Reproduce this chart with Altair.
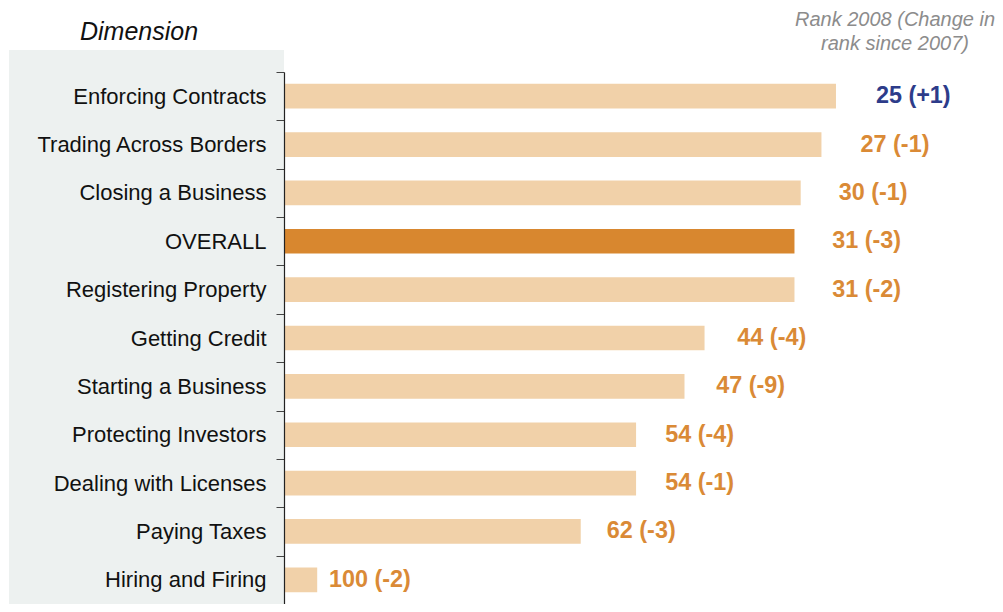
import altair as alt
import pandas as pd

dimensions = ["Enforcing Contracts", "Trading Across Borders", "Closing a Business",
              "OVERALL", "Registering Property", "Getting Credit", "Starting a Business",
              "Protecting Investors", "Dealing with Licenses", "Paying Taxes",
              "Hiring and Firing"]
rank_2008 = [25, 27, 30, 31, 31, 44, 47, 54, 54, 62, 100]
rank_change = [1, -1, -1, -3, -2, -4, -9, -4, -1, -3, -2]
bar_score = [79.8, 77.7, 74.7, 73.8, 73.8, 60.8, 57.9, 50.9, 50.9, 42.9, 4.8]

df = pd.DataFrame({
    "dim": dimensions,
    "rank": rank_2008,
    "change": rank_change,
    "score": bar_score,
})
df["label"] = [f"{r} ({c:+d})" for r, c in zip(rank_2008, rank_change)]
df["kind"] = ["overall" if d == "OVERALL" else "dim" for d in dimensions]

W, H = 700, 532
FONT = "Liberation Sans"

yenc = alt.Y("dim:N", sort=dimensions,
             scale=alt.Scale(paddingInner=0, paddingOuter=0),
             axis=alt.Axis(title=None, labelFontSize=22, labelFont=FONT,
                           labelColor="#111111", tickSize=8, labelPadding=10,
                           tickBand="extent", domainColor="#222222",
                           tickColor="#444444", domainWidth=1.2, zindex=1,
                           labelLimit=400))

panel = alt.Chart(pd.DataFrame({"p": [1]})).mark_rect(color="#EDF1F0").encode(
    x=alt.value(-275), x2=alt.value(0), y=alt.value(-22), y2=alt.value(H + 10)
)

bars = alt.Chart(df).mark_bar(size=24.7).encode(
    x=alt.X("score:Q", scale=alt.Scale(domain=[0, 101.2]), axis=None),
    y=yenc,
    color=alt.Color("kind:N", scale=alt.Scale(domain=["dim", "overall"],
                                              range=["#F1D1A9", "#D8872F"]),
                    legend=None),
)

labels = alt.Chart(df).mark_text(
    align="left", baseline="middle", dx=10, dy=0, fontSize=23.4,
    fontWeight="bold", font=FONT
).encode(
    x=alt.X("score:Q", scale=alt.Scale(domain=[0, 96.0]), axis=None),
    y=alt.Y("dim:N", sort=dimensions),
    text="label:N",
    color=alt.condition("datum.change > 0", alt.value("#2D3C8A"), alt.value("#DA8A36")),
)

title_left = alt.Chart(pd.DataFrame({"t": ["Dimension"]})).mark_text(
    fontSize=25, fontStyle="italic", font=FONT, color="#111111",
    align="center", baseline="alphabetic"
).encode(x=alt.value(-145), y=alt.value(-32), text="t:N")

title_right = alt.Chart(pd.DataFrame({"t": [["Rank 2008 (Change in", "rank since 2007)"]]})).mark_text(
    fontSize=20, fontStyle="italic", font=FONT, color="#8C8C8C",
    align="center", baseline="alphabetic", lineHeight=24
).encode(x=alt.value(611), y=alt.value(-46), text="t")

chart = alt.layer(panel, bars, labels, title_left, title_right).resolve_scale(
    x="independent"
).properties(
    width=W, height=H,
    autosize=alt.AutoSizeParams(type="none"),
    padding={"left": 276, "top": 64, "right": 11, "bottom": 0},
).configure_view(stroke=None)

chart.save("out.html", embed_options={"renderer": "svg", "actions": False})
